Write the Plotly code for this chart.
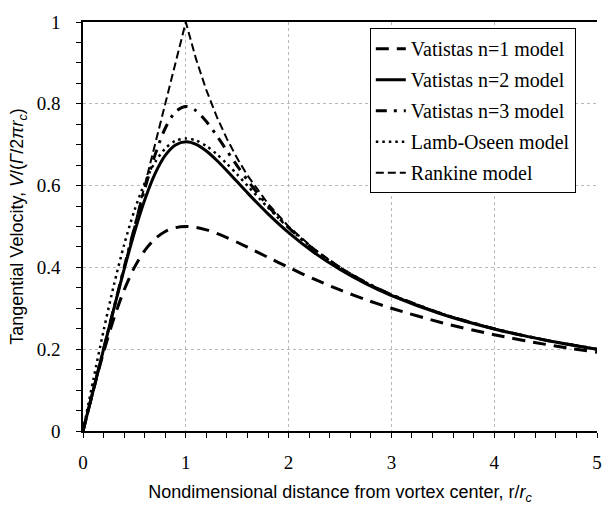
import plotly.graph_objects as go

# Nondimensional radius r/rc
r = [0, 0.1, 0.2, 0.3, 0.4, 0.5, 0.6, 0.7, 0.8, 0.9, 1.0, 1.1, 1.2, 1.3, 1.4, 1.5,
     1.6, 1.8, 2.0, 2.25, 2.5, 2.75, 3.0, 3.5, 4.0, 4.5, 5.0]

vatistas_n1 = [0, 0.0990, 0.1923, 0.2752, 0.3448, 0.4000, 0.4412, 0.4698, 0.4878, 0.4972,
               0.5000, 0.4977, 0.4918, 0.4833, 0.4730, 0.4615, 0.4494, 0.4245, 0.4000,
               0.3711, 0.3448, 0.3212, 0.3000, 0.2642, 0.2353, 0.2118, 0.1923]
vatistas_n2 = [0, 0.1000, 0.1998, 0.2988, 0.3950, 0.4851, 0.5645, 0.6286, 0.6738, 0.6994,
               0.7071, 0.7007, 0.6845, 0.6620, 0.6363, 0.6092, 0.5822, 0.5308, 0.4851,
               0.4360, 0.3950, 0.3605, 0.3313, 0.2848, 0.2495, 0.2220, 0.1998]
vatistas_n3 = [0, 0.1000, 0.2000, 0.2999, 0.3995, 0.4974, 0.5910, 0.6745, 0.7403, 0.7808,
               0.7937, 0.7831, 0.7568, 0.7224, 0.6852, 0.6482, 0.6130, 0.5502, 0.4974,
               0.4433, 0.3995, 0.3634, 0.3332, 0.2857, 0.2500, 0.2222, 0.2000]
lamb_oseen = [0, 0.1249, 0.2451, 0.3564, 0.4553, 0.5391, 0.6064, 0.6567, 0.6906, 0.7095,
              0.7153, 0.7103, 0.6968, 0.6772, 0.6534, 0.6272, 0.5999, 0.5461, 0.4967,
              0.4437, 0.3998, 0.3636, 0.3333, 0.2857, 0.2500, 0.2222, 0.2000]
rankine = [0, 0.1, 0.2, 0.3, 0.4, 0.5, 0.6, 0.7, 0.8, 0.9,
           1.0, 0.9091, 0.8333, 0.7692, 0.7143, 0.6667, 0.6250, 0.5556, 0.5000,
           0.4444, 0.4000, 0.3636, 0.3333, 0.2857, 0.2500, 0.2222, 0.2000]

names = ["Vatistas n=1 model", "Vatistas n=2 model", "Vatistas n=3 model",
         "Lamb-Oseen model", "Rankine model"]

x_ticks = [0, 1, 2, 3, 4, 5]
y_ticks = [0, 0.2, 0.4, 0.6, 0.8, 1]
y_ticklabels = ["0", "0.2", "0.4", "0.6", "0.8", "1"]

series = [
    (vatistas_n1, dict(color="black", width=3, dash="13px,8px"), "spline"),
    (vatistas_n2, dict(color="black", width=3), "spline"),
    (vatistas_n3, dict(color="black", width=3, dash="11px,7px,3px,7px"), "spline"),
    (lamb_oseen, dict(color="black", width=2.5, dash="2.5px,4px"), "spline"),
    (rankine, dict(color="black", width=2, dash="8px,4px"), "linear"),
]

fig = go.Figure()
for (vals, line, shape), nm in zip(series, names):
    line = dict(line)
    line["shape"] = shape
    if shape == "spline":
        line["smoothing"] = 0.8
    fig.add_trace(go.Scatter(x=r, y=vals, mode="lines", name=nm, line=line,
                             legendgroup=nm))

serif = "Times New Roman, Liberation Serif, DejaVu Serif, serif"
sans = "Arial, Liberation Sans, sans-serif"

fig.update_layout(
    width=614, height=511,
    margin=dict(l=83, r=13, t=17, b=72),
    paper_bgcolor="white", plot_bgcolor="white",
    font=dict(family=serif),
    showlegend=True,
    legend=dict(
        x=0.558, y=0.985, xanchor="left", yanchor="top",
        bgcolor="white", bordercolor="black", borderwidth=1,
        font=dict(family=serif, size=20, color="black"),
        traceorder="grouped", tracegroupgap=2,
    ),
    xaxis=dict(
        range=[0, 5], tickvals=x_ticks, ticktext=[str(v) for v in x_ticks],
        showline=True, linecolor="black", linewidth=1.5, mirror=True,
        ticks="outside", ticklen=5, tickcolor="black",
        minor=dict(dtick=0.2, ticks="outside", ticklen=5, tickcolor="black", showgrid=False),
        showgrid=True, gridcolor="#b8b8b8", griddash="dot", gridwidth=1,
        zeroline=False,
        tickfont=dict(family=serif, size=19, color="black"),
        ticklabelstandoff=8,
        title=dict(text="Nondimensional distance from vortex center, r/<i>r</i><sub><i>c</i></sub>",
                   font=dict(family=sans, size=18, color="black"), standoff=14),
    ),
    yaxis=dict(
        range=[0, 1], tickvals=y_ticks, ticktext=y_ticklabels,
        showline=True, linecolor="black", linewidth=1.5, mirror=False,
        ticks="outside", ticklen=5, tickcolor="black",
        minor=dict(dtick=0.05, ticks="outside", ticklen=5, tickcolor="black", showgrid=False),
        showgrid=True, gridcolor="#b8b8b8", griddash="dot", gridwidth=1,
        zeroline=False,
        tickfont=dict(family=serif, size=19, color="black"),
        ticklabelstandoff=12,
        title=dict(text="Tangential Velocity, <i>V</i>/(<i>Γ</i>/2<i>πr</i><sub><i>c</i></sub>)",
                   font=dict(family=sans, size=18, color="black"), standoff=8),
    ),
)

fig.write_html("out.html")
